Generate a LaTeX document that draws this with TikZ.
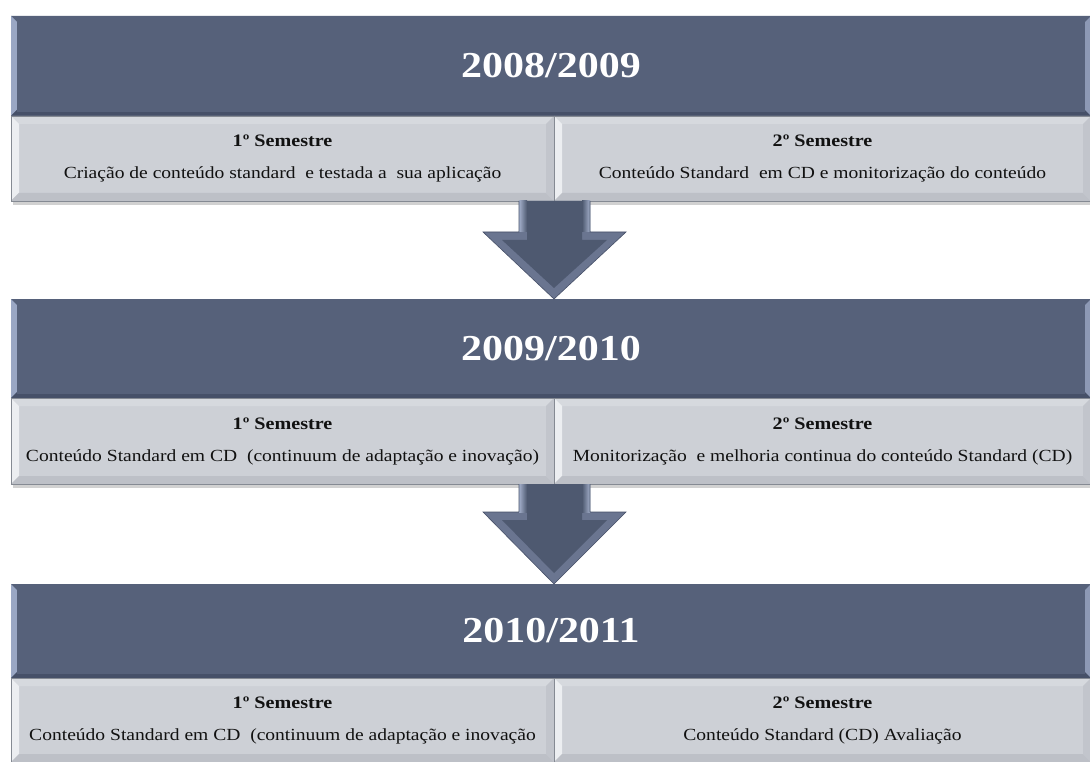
\documentclass[tikz,border=0pt]{standalone}
\usepackage{fontspec}
\setmainfont[FakeStretch=1.15]{Liberation Serif}
\usetikzlibrary{calc}

\definecolor{hdrfill}{HTML}{56617A}
\definecolor{hdrlight}{HTML}{9AA7C4}
\definecolor{hdrdark}{HTML}{465068}
\definecolor{semfill}{HTML}{CDD0D6}
\definecolor{semtop}{HTML}{D6D9DE}
\definecolor{semleft}{HTML}{ECEEF1}
\definecolor{sembottom}{HTML}{BDC0C7}
\definecolor{semright}{HTML}{C2C5CC}
\definecolor{semedge}{HTML}{858A93}
\definecolor{arrfill}{HTML}{4E5970}
\definecolor{arrbevel}{HTML}{6A7590}
\definecolor{arrlight}{HTML}{A4B0CB}
\definecolor{txt}{HTML}{111111}

% four bevel bands inside a rectangular node: #1 node, #2 inset, #3-#6 top/left/bottom/right colours
\newcommand{\bevelbands}[6]{%
  \fill[#3] (#1.north west) -- (#1.north east) -- ($(#1.north east)+(-#2,#2)$) -- ($(#1.north west)+(#2,#2)$) -- cycle;
  \fill[#4] (#1.north west) -- (#1.south west) -- ($(#1.south west)+(#2,-#2)$) -- ($(#1.north west)+(#2,#2)$) -- cycle;
  \fill[#5] (#1.south west) -- (#1.south east) -- ($(#1.south east)+(-#2,-#2)$) -- ($(#1.south west)+(#2,-#2)$) -- cycle;
  \fill[#6] (#1.north east) -- (#1.south east) -- ($(#1.south east)+(-#2,-#2)$) -- ($(#1.north east)+(-#2,#2)$) -- cycle;
}

% block arrow from the bottom of one band to the top of the next
\newcommand{\blockarrowdown}[3]{% #1 top point, #2 tip, #3 head depth
  \coordinate (tl) at ($(#1)+(-35,0)$);
  \coordinate (tr) at ($(#1)+(36,0)$);
  \coordinate (sl) at ($(#2)+(-35,-#3)$);
  \coordinate (sr) at ($(#2)+(36,-#3)$);
  \coordinate (hl) at ($(#2)+(-71,-#3)$);
  \coordinate (hr) at ($(#2)+(72,-#3)$);
  \fill[arrbevel] (tl) -- (tr) -- (sr) -- (hr) -- (#2) -- (hl) -- (sl) -- cycle;
  \fill[arrfill] ($(tl)+(8,0)$) -- ($(tr)+(-8,0)$) -- ($(sr)+(-8,8)$) -- ($(hr)+(-19,8)$) -- ($(#2)+(0,-11)$) -- ($(hl)+(19,8)$) -- ($(sl)+(8,8)$) -- cycle;
  \shade[left color=arrlight, right color=arrfill] (tl) rectangle ($(sl)+(8,0)$);
  \shade[left color=arrfill, right color=arrlight] ($(tr)+(-8,0)$) rectangle (sr);
  \draw[hdrdark, line width=0.6pt] (tl) -- (sl) -- (hl) -- (#2) -- (hr) -- (sr) -- (tr);
}

\tikzset{
  yearband/.style={anchor=north west, inner sep=0pt, outer sep=0pt, minimum width=1080, minimum height=#1,
    fill=hdrfill},
  yeartext/.style={text=white, font=\fontsize{36.5}{40}\selectfont\bfseries},
  semcell/.style={anchor=north west, inner sep=0pt, outer sep=0pt, minimum height=#1, fill=semfill},
  semleftcell/.style={semcell=#1, minimum width=543},
  semrightcell/.style={semcell=#1, minimum width=537},
  semtext/.style={text=txt, align=center, inner sep=0pt, font=\fontsize{17}{32}\selectfont},
  semhead/.style={font=\fontsize{17.5}{32}\selectfont\bfseries},
}

\begin{document}
\begin{tikzpicture}[x=1pt, y=-1pt]
\useasboundingbox (0,0) rectangle (1090,762);
\fill[white] (0,0) rectangle (1090,762);

% ---------- 2008/2009 ----------
\fill[black!18] (13,118) rectangle (1091,205);
\node[yearband=100] (y1) at (11,16) {};
\bevelbands{y1}{6}{hdrfill}{hdrlight}{hdrdark}{hdrlight!80!hdrfill}
\fill[hdrfill] ($(y1.north west)+(6,6)$) rectangle ($(y1.south east)+(-6,-4)$);
\node[yeartext] (t1) at (y1.center) {2008/2009};
\node[semleftcell=85] (a1) at (11,116) {};
\node[semrightcell=85] (b1) at (554,116) {};
\bevelbands{a1}{8}{semtop}{semleft}{sembottom}{semright}
\bevelbands{b1}{8}{semtop}{semleft}{sembottom}{semright}
\draw[semedge, line width=0.8pt] (a1.north west) rectangle (a1.south east);
\draw[semedge, line width=0.8pt] (b1.north west) rectangle (b1.south east);
\node[semtext] (a1t) at (a1.center) {{\fontsize{17.5}{32}\selectfont\bfseries 1º Semestre}\\Criação de conteúdo standard\ \ e testada a\ \ sua aplicação};
\node[semtext] (b1t) at (b1.center) {{\fontsize{17.5}{32}\selectfont\bfseries 2º Semestre}\\Conteúdo Standard\ \ em CD e monitorização do conteúdo};

% ---------- 2009/2010 ----------
\fill[black!18] (13,400) rectangle (1091,488);
\node[yearband=99] (y2) at (11,299) {};
\bevelbands{y2}{6}{hdrfill}{hdrlight}{hdrdark}{hdrlight!80!hdrfill}
\fill[hdrfill] ($(y2.north west)+(6,6)$) rectangle ($(y2.south east)+(-6,-4)$);
\node[yeartext] (t2) at (y2.center) {2009/2010};
\node[semleftcell=86] (a2) at (11,398) {};
\node[semrightcell=86] (b2) at (554,398) {};
\bevelbands{a2}{8}{semtop}{semleft}{sembottom}{semright}
\bevelbands{b2}{8}{semtop}{semleft}{sembottom}{semright}
\draw[semedge, line width=0.8pt] (a2.north west) rectangle (a2.south east);
\draw[semedge, line width=0.8pt] (b2.north west) rectangle (b2.south east);
\node[semtext] (a2t) at (a2.center) {{\fontsize{17.5}{32}\selectfont\bfseries 1º Semestre}\\Conteúdo Standard em CD\ \ (continuum de adaptação e inovação)};
\node[semtext] (b2t) at (b2.center) {{\fontsize{17.5}{32}\selectfont\bfseries 2º Semestre}\\Monitorização\ \ e melhoria continua do conteúdo Standard (CD)};

% ---------- 2010/2011 ----------
\node[yearband=94] (y3) at (11,584) {};
\bevelbands{y3}{6}{hdrfill}{hdrlight}{hdrdark}{hdrlight!80!hdrfill}
\fill[hdrfill] ($(y3.north west)+(6,6)$) rectangle ($(y3.south east)+(-6,-4)$);
\node[yeartext] (t3) at (y3.center) {2010/2011};
\node[semleftcell=84] (a3) at (11,678) {};
\node[semrightcell=84] (b3) at (554,678) {};
\bevelbands{a3}{8}{semtop}{semleft}{sembottom}{semright}
\bevelbands{b3}{8}{semtop}{semleft}{sembottom}{semright}
\draw[semedge, line width=0.8pt] (a3.north west) rectangle (a3.south east);
\draw[semedge, line width=0.8pt] (b3.north west) rectangle (b3.south east);
\node[semtext] (a3t) at (a3.center) {{\fontsize{17.5}{32}\selectfont\bfseries 1º Semestre}\\Conteúdo Standard em CD\ \ (continuum de adaptação e inovação};
\node[semtext] (b3t) at (b3.center) {{\fontsize{17.5}{32}\selectfont\bfseries 2º Semestre}\\Conteúdo Standard (CD) Avaliação};

% ---------- arrows between the years ----------
\coordinate (top1) at (a1.south east);
\coordinate (tip1) at (a1.south east |- y2.north);
\blockarrowdown{top1}{tip1}{67}
\coordinate (top2) at (a2.south east);
\coordinate (tip2) at (a2.south east |- y3.north);
\blockarrowdown{top2}{tip2}{72}
\end{tikzpicture}
\end{document}
